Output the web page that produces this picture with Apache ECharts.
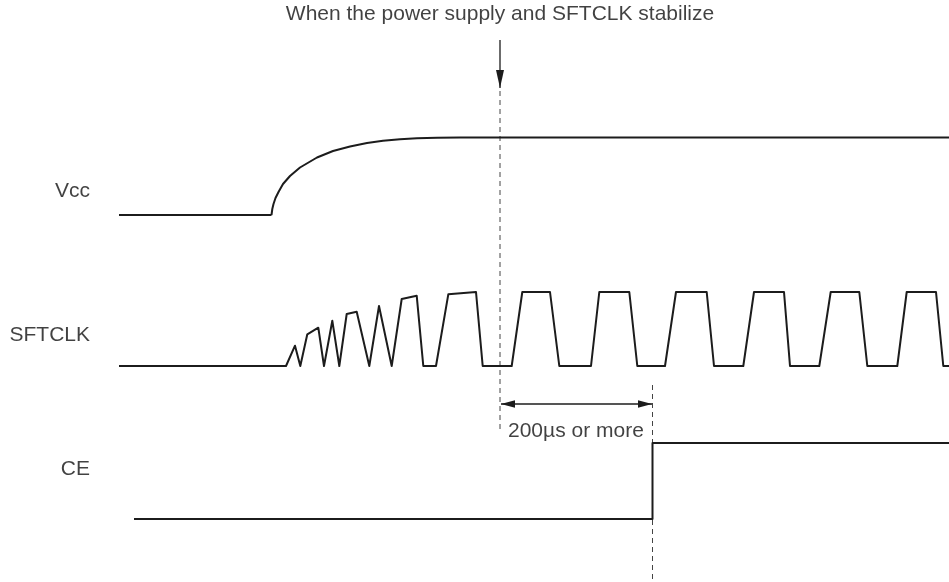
<!DOCTYPE html>
<html>
<head>
<meta charset="utf-8">
<script src="https://cdn.jsdelivr.net/npm/echarts@6/dist/echarts.min.js"></script>
<style>
html,body{margin:0;padding:0;background:#fff;}
#chart{width:949px;height:582px;}
</style>
</head>
<body>
<div id="chart"></div>
<script>
// time axis (horizontal) and level axis (vertical, downward) in drawing units
const vccLow = [[119, 215], [271.5, 215]];
const vccRise = [[271.5, 215], [272.3, 209], [273.5, 204], [275.5, 198], [278.5, 192], [283, 184], [290, 176], [300, 167.5], [317, 157.5], [333, 151], [350, 146.5], [367, 143], [383, 140.8], [400, 139.3], [417, 138.3], [437, 137.7], [460, 137.5], [949, 137.5]];
const sftclk = [
  [119, 366], [286, 366], [295, 345.7], [300.3, 366], [307.3, 334.3], [318.3, 327.7], [324, 366],
  [332.3, 320.7], [339.3, 366], [346.7, 314], [356.7, 311.7], [369.3, 366], [379, 306], [391.7, 366],
  [401.7, 299], [416.7, 295.7], [423.3, 366], [436, 366], [448.3, 294.3], [476, 292], [482.7, 366],
  [511.7, 366], [522.3, 292], [550, 292], [559.3, 366], [591, 366], [599.3, 292], [629.3, 292], [637.3, 366],
  [665, 366], [676, 292], [706.7, 292], [714, 366], [743.3, 366], [754, 292], [784, 292], [790, 366],
  [819.3, 366], [830.7, 292], [859.3, 292], [867.3, 366], [897.3, 366], [906.7, 292], [936, 292], [943.3, 366], [949, 366]
];
const ce = [[134, 519], [652.5, 519], [652.5, 443], [949, 443]];
const guide1 = [[500, 91], [500, 430]];
const guide2 = [[652.5, 385], [652.5, 582]];
const downArrow = [[500, 40], [500, 88]];
const spanArrow = [[501, 404], [652, 404]];
const titleText = [{ value: [500, 14], text: 'When the power supply and SFTCLK stabilize' }];
const signalLabels = [
  { value: [90, 191], text: 'Vcc' },
  { value: [90, 335], text: 'SFTCLK' },
  { value: [90, 469], text: 'CE' }
];
const spanLabel = [{ value: [508, 431], text: '200\u00b5s or more' }];

const FONT = '"Liberation Sans", Arial, Helvetica, sans-serif';
const INK = '#1c1c1c';

function waveform(data) {
  return {
    type: 'line', data: data, showSymbol: false, symbol: 'none',
    lineStyle: { color: INK, width: 2, join: 'round' }, z: 3, silent: true
  };
}
function guide(data) {
  return {
    type: 'line', data: data, showSymbol: false, symbol: 'none',
    lineStyle: { color: '#444', width: 1, type: [5, 4] }, z: 2, silent: true
  };
}
function shaft(data) {
  return {
    type: 'line', data: data, showSymbol: false, symbol: 'none',
    lineStyle: { color: INK, width: 1.3 }, z: 4, silent: true
  };
}
function textSeries(items, size, align) {
  return {
    type: 'scatter', symbolSize: 0, silent: true, z: 5,
    data: items.map(d => ({ value: d.value, text: d.text })),
    label: {
      show: true, position: 'inside', formatter: p => p.data.text,
      color: '#111', fontSize: size, fontFamily: FONT, align: align, verticalAlign: 'middle'
    }
  };
}

const chart = echarts.init(document.getElementById('chart'), null, { renderer: 'canvas' });
chart.setOption({
  animation: false,
  backgroundColor: '#ffffff',
  grid: { left: 0, right: 0, top: 0, bottom: 0 },
  xAxis: { type: 'value', min: 0, max: 949, show: false },
  yAxis: { type: 'value', min: 0, max: 582, inverse: true, show: false },
  series: [
    waveform(vccLow),
    waveform(vccRise),
    waveform(sftclk),
    waveform(ce),
    guide(guide1),
    guide(guide2),
    shaft(downArrow),
    shaft(spanArrow),
    textSeries(titleText, 21, 'center'),
    textSeries(signalLabels, 21, 'right'),
    textSeries(spanLabel, 21, 'left')
  ]
});

// arrowheads: filled triangles placed at the arrow ends through the chart's own coordinate conversion
function head(tip, from, len, half) {
  const t = chart.convertToPixel({ gridIndex: 0 }, tip);
  const f = chart.convertToPixel({ gridIndex: 0 }, from);
  const dx = t[0] - f[0], dy = t[1] - f[1];
  const d = Math.hypot(dx, dy) || 1;
  const ux = dx / d, uy = dy / d;
  const bx = t[0] - ux * len, by = t[1] - uy * len;
  return {
    type: 'polygon', silent: true, z: 10,
    shape: { points: [[t[0], t[1]], [bx - uy * half, by + ux * half], [bx + uy * half, by - ux * half]] },
    style: { fill: INK }
  };
}
chart.setOption({
  graphic: [
    head(downArrow[1], downArrow[0], 18, 4),
    head(spanArrow[0], spanArrow[1], 14, 3.8),
    head(spanArrow[1], spanArrow[0], 14, 3.8)
  ]
});
</script>
</body>
</html>
